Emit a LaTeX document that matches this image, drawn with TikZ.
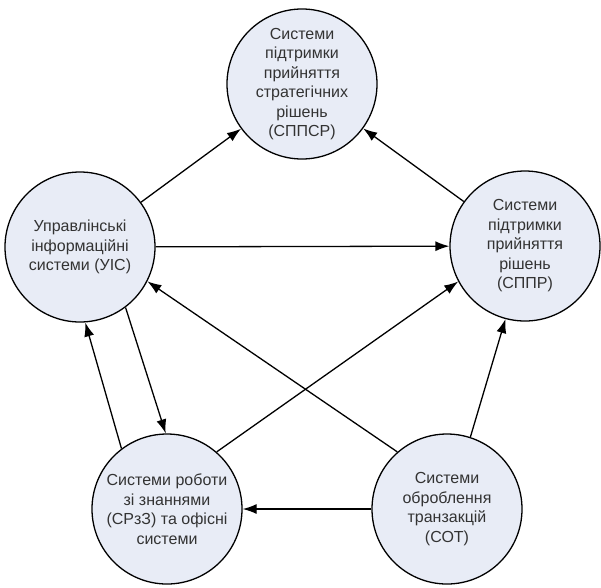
\documentclass[tikz,border=0pt]{standalone}
\usepackage{fontspec}
\setmainfont{Liberation Sans}
\usetikzlibrary{arrows.meta}
\definecolor{nodefill}{RGB}{232,236,246}
\begin{document}
\begin{tikzpicture}[x=1pt,y=-1pt,
  sys/.style={circle,draw=black,line width=1.3pt,fill=nodefill,minimum size=150pt,inner sep=0pt,align=center,text=black!80,font=\fontsize{16}{19.5}\selectfont},
  conn/.style={line width=1.3pt,-{Latex[length=14pt,width=10pt]}}]
\useasboundingbox (0,0) rectangle (601,587);
\node[sys] (top) at (302,84) {Системи\\підтримки\\прийняття\\стратегічних\\рішень\\(СППСР)};
\node[sys] (uis) at (80,247) {Управлінські\\інформаційні\\системи (УІС)};
\node[sys] (dss) at (525,246) {Системи\\підтримки\\прийняття\\рішень\\(СППР)};
\node[sys] (kws) at (167,509) {Системи роботи\\зі знаннями\\(СРзЗ) та офісні\\системи};
\node[sys] (tps) at (447,509) {Системи\\оброблення\\транзакцій\\(СОТ)};
\draw[conn] (uis) -- (top);
\draw[conn] (dss) -- (top);
\draw[conn] (uis) -- (dss);
\draw[conn] (tps.131) -- (uis.-27);
\draw[conn] (kws.49) -- (dss.208);
\draw[conn] (kws.127) -- (uis.-86);
\draw[conn] (uis.-53) -- (kws.91);
\draw[conn] (tps) -- (kws);
\draw[conn] (tps.72) -- (dss.-105);
\end{tikzpicture}
\end{document}
